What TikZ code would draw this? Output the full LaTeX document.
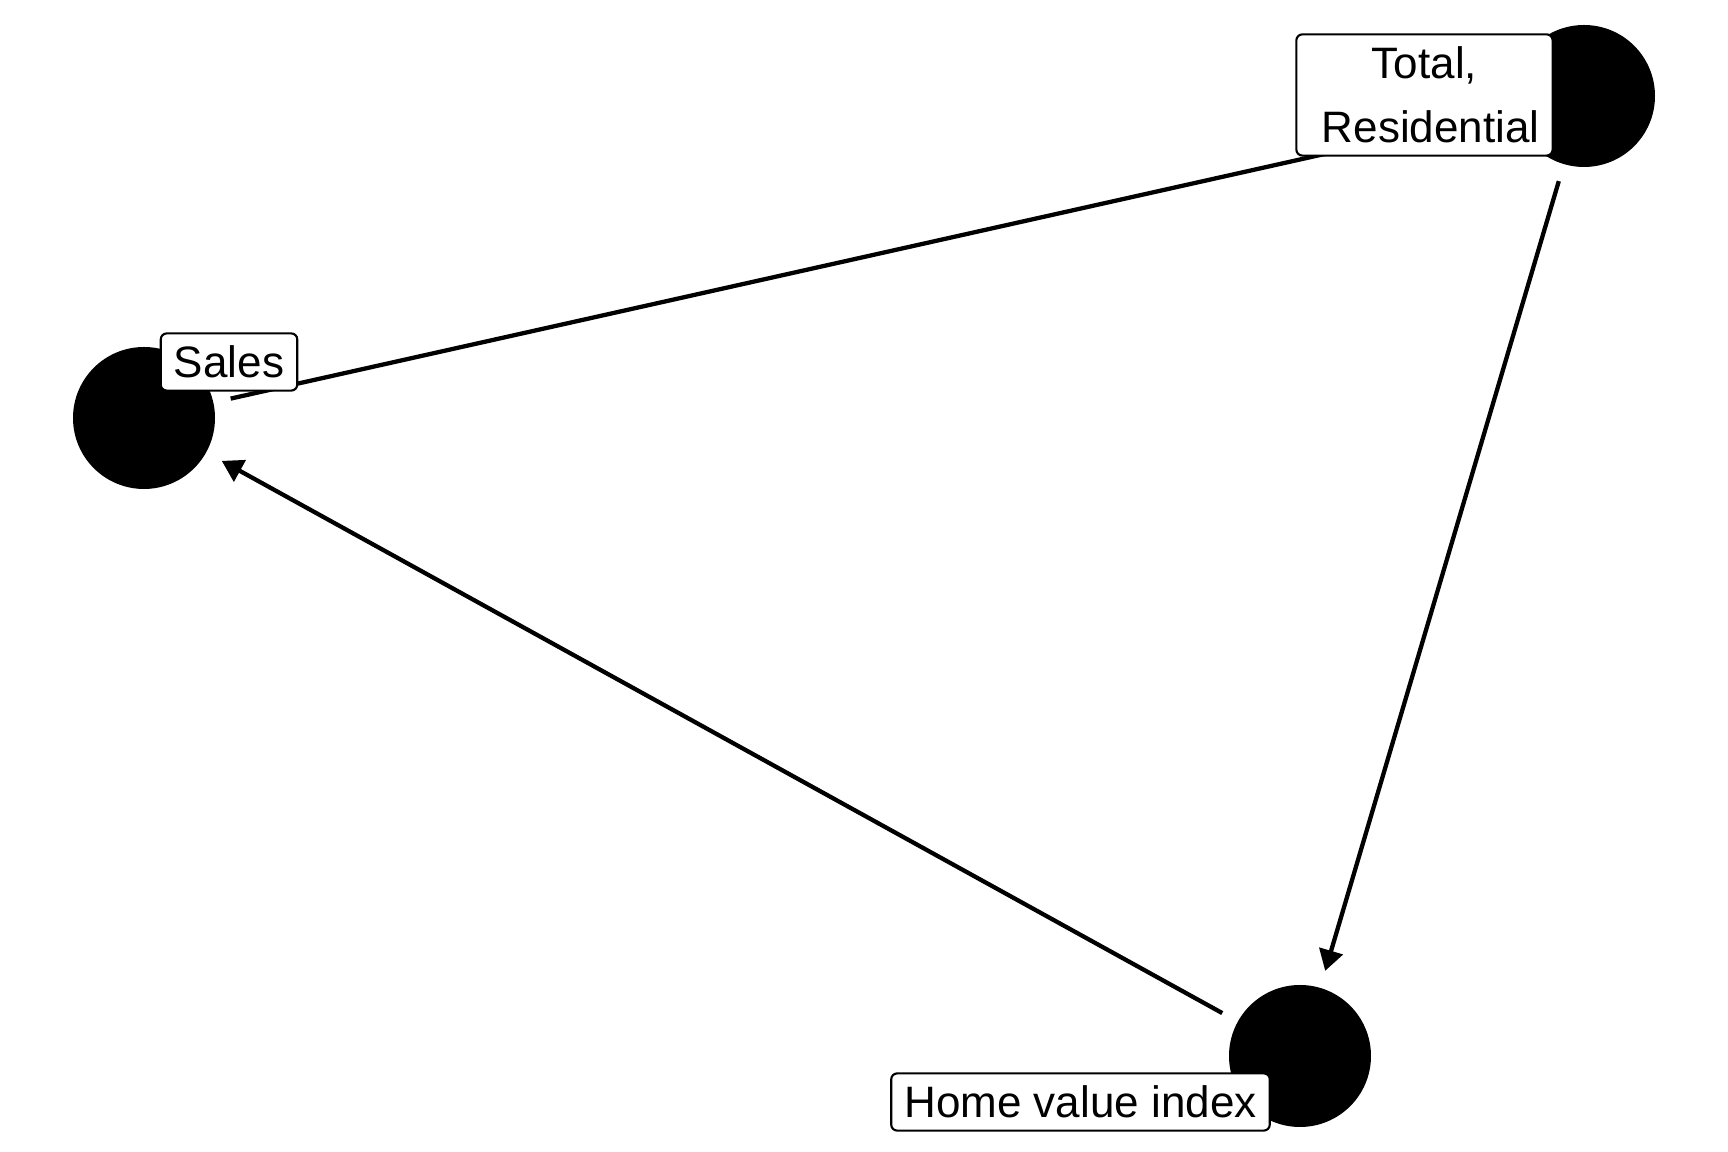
\documentclass[tikz,border=0pt]{standalone}
\usepackage{fontspec}
\setmainfont{Liberation Sans}
\usetikzlibrary{arrows.meta}
\tikzset{
	vertex/.style={circle,fill=black,minimum size=35.5pt,inner sep=0pt},
	labelbox/.style={rectangle,rounded corners=1.5pt,draw=black,line width=0.53pt,fill=white,
	font=\fontsize{11pt}{16pt}\selectfont,align=center,
	inner xsep=3.3pt,inner ysep=3.2pt,text height=7.9pt,text depth=0pt},
	edge/.style={line width=1.07pt,-{Triangle[length=5.2pt,width=6pt]},shorten >=4.25pt,shorten <=4.25pt},
}
\begin{document}
\begin{tikzpicture}[x=0.25pt,y=-0.25pt]
	\useasboundingbox (0,0) rectangle (1728,1152);
	% vertices
	\node[vertex] (sales) at (144,418) {};
	\node[vertex] (total) at (1584,96) {};
	\node[vertex] (home) at (1300,1056) {};
	% edges
	\path[draw,edge] (sales) -- (total);
	\path[draw,edge] (total) -- (home);
	\path[draw,edge] (home) -- (sales);
	% labels on top
	\node[labelbox] (lsales) at (229,362) {Sales};
	\node[labelbox,text height=23.9pt] (ltotal) at (1424.5,95) {Total,\\~Residential};
	\node[labelbox] (lhome) at (1080.5,1102) {Home value index};
\end{tikzpicture}
\end{document}
